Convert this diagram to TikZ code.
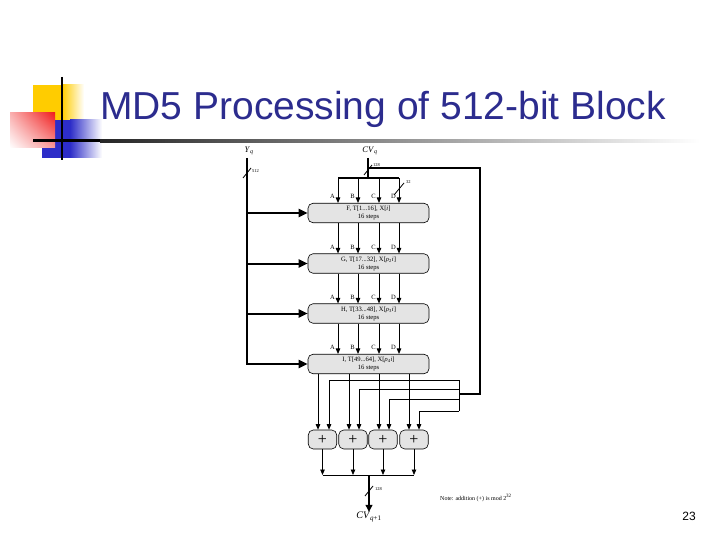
\documentclass[tikz,border=0pt]{standalone}
\usepackage{fontspec}
\setmainfont{Liberation Serif}
\newfontfamily\titlefont{Liberation Sans}
\usetikzlibrary{arrows.meta,calc,shadings}
\definecolor{titleblue}{RGB}{44,44,142}
\definecolor{logoyellow}{RGB}{255,204,0}
\definecolor{logoblue}{RGB}{45,45,200}
\definecolor{logored}{RGB}{240,30,30}
\definecolor{boxgray}{RGB}{228,228,228}
\begin{document}
\begin{tikzpicture}[x=1pt,y=-1pt,
  rbox/.style={draw, line width=0.6pt, rounded corners=5pt, fill=boxgray, minimum width=121pt, minimum height=19.5pt, inner sep=0pt, align=center, font=\fontsize{6.6}{8}\selectfont},
  addbox/.style={draw, line width=0.6pt, rounded corners=5pt, fill=boxgray, minimum width=28.5pt, minimum height=19pt, inner sep=0pt, font=\fontsize{16}{16}\selectfont},
  wire/.style={line width=0.8pt},
  med/.style={line width=1.4pt},
  fat/.style={line width=2pt},
  arr/.style={-{Triangle[length=5.5pt,width=4.5pt]}},
  bigarr/.style={-{Triangle[length=9pt,width=8pt]}},
  lbl/.style={font=\fontsize{6.5}{7}\selectfont, inner sep=0pt},
  tiny/.style={font=\fontsize{4.5}{4.5}\selectfont, inner sep=0pt}
]
\useasboundingbox (0,0) rectangle (720,540);

% ---------- logo ----------
\fill[logoyellow] (33,85) rectangle (62,128);
\shade[left color=logoyellow, right color=white] (62,85) rectangle (84,128);
\fill[logoblue] (42,120) rectangle (70,158);
\shade[left color=logoblue, right color=white] (70,120) rectangle (102,158);
\shade[upper right=logored, upper left=logored!35!white, lower right=logored!45!white, lower left=white] (10,113) rectangle (55,148);
\draw[line width=2.5pt] (62,77) -- (62,160);
\fill[black] (33,139.5) rectangle (100,142.5);
\shade[left color=black!85, right color=white] (100,139.5) rectangle (700,142.5);

% ---------- title ----------
\node[anchor=base west, inner sep=0pt, text=titleblue, font=\titlefont\fontsize{39}{45}\selectfont] (title) at (100,120) {MD5 Processing of 512-bit Block};

% ---------- page number ----------
\node[font=\titlefont\fontsize{12}{14}\selectfont] (page) at (689,516) {23};

% ---------- round boxes ----------
\node[rbox] (F) at (368.5,213) {F, T[1...16], X[\textit{i}]\\16 steps};
\node[rbox] (G) at (368.5,263.5) {G, T[17...32], X[\textit{ρ}\textsubscript{2}\textit{i}]\\16 steps};
\node[rbox] (H) at (368.5,313.5) {H, T[33...48], X[\textit{ρ}\textsubscript{3}\textit{i}]\\16 steps};
\node[rbox] (I) at (368.5,364) {I, T[49...64], X[\textit{ρ}\textsubscript{4}\textit{i}]\\16 steps};

% ---------- adders ----------
\node[addbox] (a1) at (322.5,439.5) {+};
\node[addbox] (a2) at (353,439.5) {+};
\node[addbox] (a3) at (383,439.5) {+};
\node[addbox] (a4) at (414,439.5) {+};

% ---------- column coordinates ----------
\coordinate (cA) at (338,0);
\coordinate (cB) at (358,0);
\coordinate (cC) at (379,0);
\coordinate (cD) at (399,0);
\coordinate (dA) at (318,0);
\coordinate (dB) at (349,0);
\coordinate (dC) at (379,0);
\coordinate (dD) at (409,0);
\coordinate (eA) at (329,0);
\coordinate (eB) at (359,0);
\coordinate (eC) at (389,0);
\coordinate (eD) at (419,0);

% ---------- Yq input ----------
\node[font=\fontsize{8.5}{8.5}\selectfont, inner sep=0pt] (yq) at (249,151) {\textit{Y}\textsubscript{\textit{q}}};
\coordinate (yqtop) at (247,158);
\draw[fat,bigarr] (yqtop) -- (yqtop |- I.west) -- (I.west);
\draw[fat,bigarr] (yqtop |- F.west) -- (F.west);
\draw[fat,bigarr] (yqtop |- G.west) -- (G.west);
\draw[fat,bigarr] (yqtop |- H.west) -- (H.west);
\coordinate (s512) at (247,173);
\draw[wire] ($(s512)+(-4,5)$) -- ($(s512)+(4,-5)$);
\node[tiny, anchor=west] (l512) at (252,171) {512};

% ---------- CVq input ----------
\node[font=\fontsize{8.5}{8.5}\selectfont, inner sep=0pt] (cvq) at (370,151) {\textit{CV}\textsubscript{\textit{q}}};
\coordinate (cvtop) at (368,158);
\coordinate (busL) at (338,178);
\coordinate (busR) at (399,178);
\draw[fat] (cvtop) -- (cvtop |- busL);
\draw[med] (busL) -- (busR);
\coordinate (s128a) at (368,170);
\draw[wire] ($(s128a)+(-4,5)$) -- ($(s128a)+(4,-5)$);
\node[tiny, anchor=west] (l128a) at (373,165) {128};

% feedback loop
\coordinate (loopTop) at (480,168);
\coordinate (fbmid) at (459,394);
\draw[med] (cvtop |- loopTop) -- (loopTop) -- (loopTop |- fbmid) -- (fbmid);

% columns into F
\foreach \c in {cA,cB,cC,cD}
  \draw[wire,arr] (\c |- busL) -- (F.north -| \c);
\coordinate (s32) at (399,189);
\draw[wire] ($(s32)+(-5,6)$) -- ($(s32)+(5,-6)$);
\node[tiny, anchor=west] (l32) at (406,182) {32};

% columns between boxes
\foreach \p/\q in {F/G,G/H,H/I}
  \foreach \c in {cA,cB,cC,cD}
    \draw[wire,arr] (\p.south -| \c) -- (\q.north -| \c);

% A B C D labels
\foreach \b in {F,G,H,I}
  \foreach \c/\t in {cA/A,cB/B,cC/C,cD/D}
    \node[lbl, anchor=base east] at ($(\b.north -| \c)+(-3,-4)$) {\t};

% ---------- I box to adders ----------
\draw[wire,arr] (I.south -| dA) -- (a1.north -| dA);
\draw[wire,arr] (I.south -| dB) -- (a2.north -| dB);
\draw[wire,arr] (I.south -| dC) -- (a3.north -| dC);
\draw[wire,arr] (I.south -| dD) -- (a4.north -| dD);

% ---------- feedback to adders ----------
\coordinate (fb1) at (459,380);
\coordinate (fb2) at (459,389);
\coordinate (fb3) at (459,399.5);
\coordinate (fb4) at (459,411);
\draw[wire] (fb1) -- (fb4);
\draw[wire,arr] (fb1) -- (fb1 -| eA) -- (a1.north -| eA);
\draw[wire,arr] (fb2) -- (fb2 -| eB) -- (a2.north -| eB);
\draw[wire,arr] (fb3) -- (fb3 -| eC) -- (a3.north -| eC);
\draw[wire,arr] (fb4) -- (fb4 -| eD) -- (a4.north -| eD);

% ---------- outputs ----------
\coordinate (outL) at (322.5,475);
\coordinate (outM) at (369,475);
\draw[wire,arr] (a1.south) -- (a1.south |- outL);
\draw[wire,arr] (a2.south) -- (a2.south |- outL);
\draw[wire,arr] (a3.south) -- (a3.south |- outL);
\draw[wire,arr] (a4.south) -- (a4.south |- outL);
\draw[wire] (a1.south |- outL) -- (a4.south |- outL);
\node[font=\fontsize{10}{10}\selectfont, inner sep=0pt] (cvq1) at (369,517) {\textit{CV}\textsubscript{\textit{q}+1}};
\draw[fat,-{Triangle[length=7pt,width=6.5pt]}] (outM) -- (cvq1.north);
\coordinate (s128b) at (369,491);
\draw[wire] ($(s128b)+(-4,5)$) -- ($(s128b)+(4,-5)$);
\node[tiny, anchor=west] (l128b) at (375,489) {128};

% ---------- note ----------
\node[anchor=west, inner sep=0pt, font=\fontsize{6}{6}\selectfont] (note) at (440,498) {Note: addition (+) is mod 2\textsuperscript{32}};
\end{tikzpicture}
\end{document}
